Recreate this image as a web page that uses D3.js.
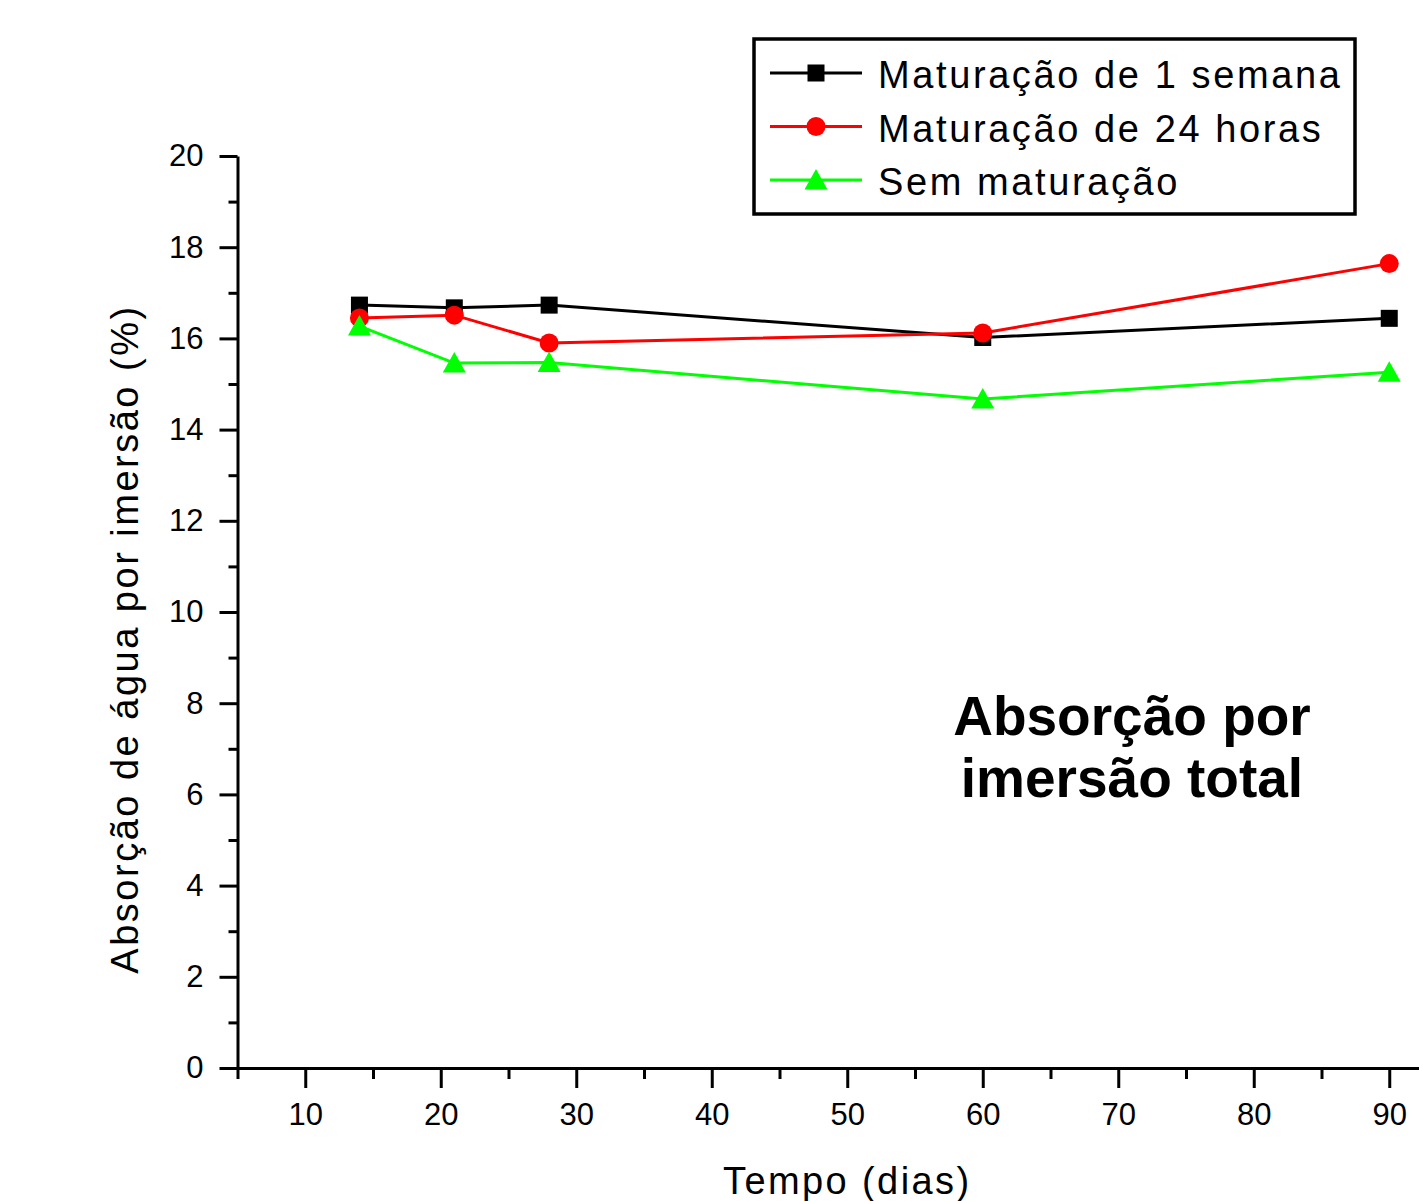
<!DOCTYPE html>
<html>
<head>
<meta charset="utf-8">
<script src="https://cdn.jsdelivr.net/npm/d3@7"></script>
<style>
  body { margin: 0; background: #fff; }
  svg { display: block; }
  text { font-family: Arial, "Liberation Sans", sans-serif; }
</style>
</head>
<body>
<div id="graph"></div>
<script>
// data
var days = [14, 21, 28, 60, 90];
var semana = [16.73, 16.67, 16.73, 16.02, 16.44];   // Maturação de 1 semana
var horas24 = [16.45, 16.51, 15.9, 16.12, 17.64];   // Maturação de 24 horas
var semMat = [16.27, 15.46, 15.47, 14.67, 15.26];   // Sem maturação
var seriesNames = ["Maturação de 1 semana", "Maturação de 24 horas", "Sem maturação"];
var seriesColors = ["#000000", "#ff0000", "#00ff00"];
var seriesShapes = ["square", "circle", "triangle"];
var xTicks = [10, 20, 30, 40, 50, 60, 70, 80, 90];
var xMinor = [5, 15, 25, 35, 45, 55, 65, 75, 85, 95];
var yTicks = [0, 2, 4, 6, 8, 10, 12, 14, 16, 18, 20];
var yMinor = [1, 3, 5, 7, 9, 11, 13, 15, 17, 19];

var width = 1419, height = 1201;

var svg = d3.select("#graph").append("svg")
  .attr("width", width)
  .attr("height", height)
  .style("background", "#fff");

var xScale = d3.scaleLinear().domain([5, 95]).range([237.5, 1457]);
var yScale = d3.scaleLinear().domain([0, 20]).range([1068, 156]);

// minor ticks first
svg.append("g")
  .attr("transform", "translate(0," + yScale(0) + ")")
  .call(d3.axisBottom(xScale).tickValues(xMinor).tickSize(11).tickFormat(""))
  .call(function (g) { g.select(".domain").remove(); })
  .selectAll("line").attr("stroke-width", 3);
svg.append("g")
  .attr("transform", "translate(" + xScale(5) + ",0)")
  .call(d3.axisLeft(yScale).tickValues(yMinor).tickSize(9).tickFormat(""))
  .call(function (g) { g.select(".domain").remove(); })
  .selectAll("line").attr("stroke-width", 3);

// x axis
var gx = svg.append("g")
  .attr("transform", "translate(0," + yScale(0) + ")")
  .call(d3.axisBottom(xScale).tickValues(xTicks).tickSize(20).tickSizeOuter(0).tickPadding(15));
gx.select(".domain").attr("stroke-width", 3);
gx.selectAll("line").attr("stroke-width", 3);
gx.selectAll("text").attr("font-size", 31).attr("font-family", "Arial, 'Liberation Sans', sans-serif");

// y axis
var gy = svg.append("g")
  .attr("transform", "translate(" + xScale(5) + ",0)")
  .call(d3.axisLeft(yScale).tickValues(yTicks).tickSize(18).tickSizeOuter(0).tickPadding(16));
gy.select(".domain").attr("stroke-width", 3);
gy.selectAll("line").attr("stroke-width", 3);
gy.selectAll("text").attr("font-size", 31).attr("font-family", "Arial, 'Liberation Sans', sans-serif");

// axis titles
svg.append("text")
  .attr("x", xScale(50))
  .attr("y", 1194)
  .attr("text-anchor", "middle")
  .attr("font-size", 38)
  .attr("letter-spacing", 2.4)
  .text("Tempo (dias)");

svg.append("text")
  .attr("transform", "translate(138,639) rotate(-90)")
  .attr("text-anchor", "middle")
  .attr("font-size", 38)
  .attr("letter-spacing", 2.5)
  .text("Absorção de água por imersão (%)");

// marker shapes
function marker(sel, shape, color) {
  if (shape == "square") {
    sel.append("rect").attr("x", -8.5).attr("y", -8.5).attr("width", 17).attr("height", 17).attr("fill", color);
  } else if (shape == "circle") {
    sel.append("circle").attr("r", 9.5).attr("fill", color);
  } else {
    sel.append("path").attr("d", "M0,-11L11.5,9.5L-11.5,9.5Z").attr("fill", color);
  }
}

var allSeries = [semana, horas24, semMat];
var line = d3.line()
  .x(function (d) { return xScale(d.x); })
  .y(function (d) { return yScale(d.y); });

allSeries.forEach(function (vals, i) {
  var pts = days.map(function (d, j) { return { x: d, y: vals[j] }; });
  svg.append("path")
    .datum(pts)
    .attr("fill", "none")
    .attr("stroke", seriesColors[i])
    .attr("stroke-width", 3)
    .attr("d", line);
  pts.forEach(function (p) {
    var g = svg.append("g").attr("transform", "translate(" + xScale(p.x) + "," + yScale(p.y) + ")");
    marker(g, seriesShapes[i], seriesColors[i]);
  });
});

// legend
var legend = svg.append("g");
legend.append("rect")
  .attr("x", 754).attr("y", 39)
  .attr("width", 601).attr("height", 175)
  .attr("fill", "#fff")
  .attr("stroke", "#000")
  .attr("stroke-width", 3.5);
seriesNames.forEach(function (name, i) {
  var cy = 73 + i * 53.5;
  legend.append("line")
    .attr("x1", 770).attr("x2", 862)
    .attr("y1", cy).attr("y2", cy)
    .attr("stroke", seriesColors[i])
    .attr("stroke-width", 3);
  var g = legend.append("g").attr("transform", "translate(816," + cy + ")");
  marker(g, seriesShapes[i], seriesColors[i]);
  legend.append("text")
    .attr("x", 878)
    .attr("y", cy + 15)
    .attr("font-size", 38)
    .attr("letter-spacing", 2.6)
    .text(name);
});

// annotation
var note = svg.append("text")
  .attr("text-anchor", "middle")
  .attr("font-size", 55)
  .attr("font-weight", "bold");
note.append("tspan").attr("x", 1132).attr("y", 735).text("Absorção por");
note.append("tspan").attr("x", 1132).attr("y", 797).text("imersão total");
</script>
</body>
</html>
